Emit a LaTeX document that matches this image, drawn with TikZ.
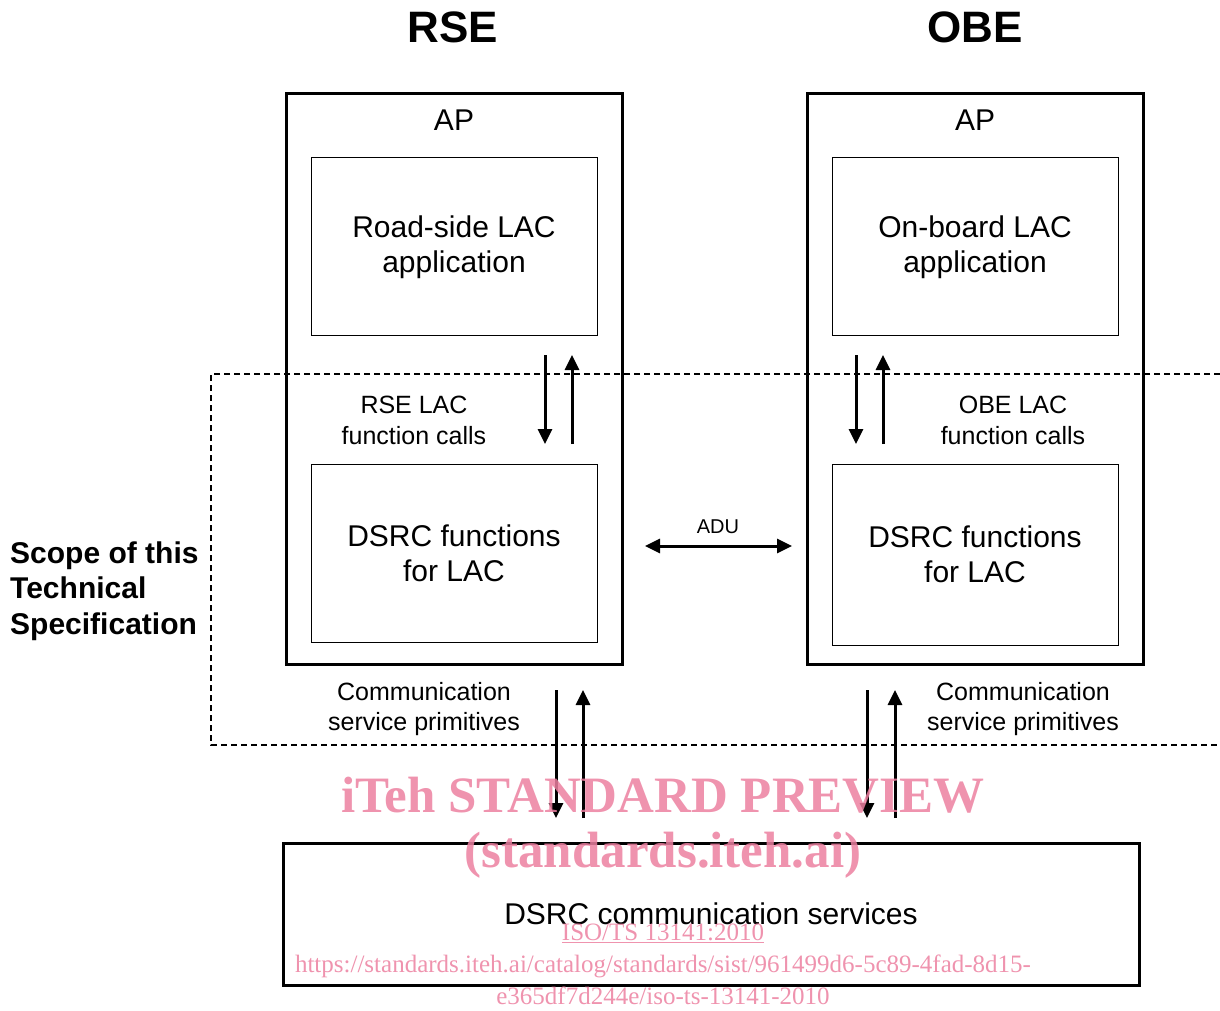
\documentclass[tikz,border=0pt]{standalone}
\usepackage{fontspec}
\setmainfont{Liberation Sans}
\newfontfamily\wmfont{Liberation Serif}
\usetikzlibrary{arrows.meta}
\definecolor{wmpink}{RGB}{236,128,160}
\begin{document}
\begin{tikzpicture}[x=1pt,y=-1pt,
  outerbox/.style={draw,line width=3pt,inner sep=0pt,minimum width=336pt,minimum height=571pt},
  innerbox/.style={draw,line width=1pt,inner sep=0pt,minimum width=286pt,minimum height=178pt,align=center,font=\fontsize{30}{35}\selectfont},
  bigbox/.style={draw,line width=3pt,inner sep=0pt,minimum width=856pt,minimum height=142pt,font=\fontsize{30}{35}\selectfont},
  title/.style={font=\fontsize{44}{50}\selectfont\bfseries,inner sep=0pt},
  aplabel/.style={font=\fontsize{30}{35}\selectfont,inner sep=0pt},
  smalllabel/.style={font=\fontsize{25}{31}\selectfont,align=center,inner sep=0pt},
  arr/.style={line width=3pt,-{Triangle[length=15pt,width=14pt]}},
  darr/.style={line width=3pt,{Triangle[length=15pt,width=14pt]}-{Triangle[length=15pt,width=14pt]}},
  scope/.style={draw,line width=1.3pt,dash pattern=on 6pt off 4pt},
  wm/.style={text=wmpink,text opacity=0.85,inner sep=0pt}
]
\useasboundingbox (0,0) rectangle (1220,1010);

% titles
\node[title] (trse) at (453,27) {RSE};
\node[title] (tobe) at (975,27) {OBE};

% scope dashed region
\coordinate (sc1) at (1220,374);
\coordinate (sc2) at (211,374);
\coordinate (sc3) at (211,745);
\coordinate (sc4) at (1220,745);
\draw[scope] (sc1) -- (sc2) -- (sc3) -- (sc4);

% RSE side
\node[outerbox] (rse) at (454,378.5) {};
\node[aplabel] (aprse) at (454,120) {AP};
\node[innerbox] (road) at (454,246) {};
\node[font=\fontsize{30}{35}\selectfont,align=center,inner sep=0pt] (roadtxt) at (454,247) {Road-side LAC\\application};
\node[innerbox] (dsrcrse) at (454,553) {DSRC functions\\for LAC};
\node[smalllabel] (rsecalls) at (414,420) {RSE LAC\\function calls};

% OBE side
\node[outerbox] (obe) at (975,378.5) {};
\node[aplabel] (apobe) at (975,120) {AP};
\node[innerbox] (onboard) at (975,246) {};
\node[font=\fontsize{30}{35}\selectfont,align=center,inner sep=0pt] (onboardtxt) at (975,247) {On-board LAC\\application};
\node[innerbox,minimum height=181pt] (dsrcobe) at (975,554.5) {DSRC functions\\for LAC};
\node[smalllabel] (obecalls) at (1013,420) {OBE LAC\\function calls};

% bottom box
\node[bigbox] (comm) at (711,914) {DSRC communication services};

% communication labels
\node[smalllabel,font=\fontsize{25}{30}\selectfont] (cspr) at (424,709) {Communication\\service primitives};
\node[smalllabel,font=\fontsize{25}{30}\selectfont] (cspo) at (1023,709) {Communication\\service primitives};

% scope label
\node[font=\fontsize{30}{35.5}\selectfont\bfseries,align=left,inner sep=0pt,anchor=west] (scopelbl) at (10,591) {Scope of this\\Technical\\Specification};

% ADU
\node[font=\fontsize{20}{24}\selectfont,inner sep=0pt] (adu) at (718,527) {ADU};
\coordinate (adul) at (645,546);
\coordinate (adur) at (792,546);
\draw[darr] (adul) -- (adur);

% RSE function call arrows
\coordinate (r1a) at (545,355); \coordinate (r1b) at (545,444);
\coordinate (r2a) at (572,444); \coordinate (r2b) at (572,355);
\draw[arr] (r1a) -- (r1b);
\draw[arr] (r2a) -- (r2b);

% OBE function call arrows
\coordinate (o1a) at (856,355); \coordinate (o1b) at (856,444);
\coordinate (o2a) at (883,444); \coordinate (o2b) at (883,355);
\draw[arr] (o1a) -- (o1b);
\draw[arr] (o2a) -- (o2b);

% communication primitive arrows
\coordinate (c1a) at (556,690); \coordinate (c1b) at (556,818);
\coordinate (c2a) at (583,818); \coordinate (c2b) at (583,690);
\draw[arr] (c1a) -- (c1b);
\draw[arr] (c2a) -- (c2b);
\coordinate (c3a) at (867,690); \coordinate (c3b) at (867,818);
\coordinate (c4a) at (895,818); \coordinate (c4b) at (895,690);
\draw[arr] (c3a) -- (c3b);
\draw[arr] (c4a) -- (c4b);

% watermark
\node[wm,font=\wmfont\bfseries\fontsize{51}{56}\selectfont] (wm1) at (663,795) {iTeh STANDARD PREVIEW};
\node[wm,font=\wmfont\bfseries\fontsize{51}{56}\selectfont] (wm2) at (663,855) {(standards.iteh.ai)};
\node[wm,font=\wmfont\fontsize{25}{30}\selectfont] (wm3) at (663,933) {\underline{ISO/TS 13141:2010}};
\node[wm,font=\wmfont\fontsize{25}{30}\selectfont] (wm4) at (663,966) {https://standards.iteh.ai/catalog/standards/sist/961499d6-5c89-4fad-8d15-};
\node[wm,font=\wmfont\fontsize{25}{30}\selectfont] (wm5) at (663,996) {e365df7d244e/iso-ts-13141-2010};
\end{tikzpicture}
\end{document}
